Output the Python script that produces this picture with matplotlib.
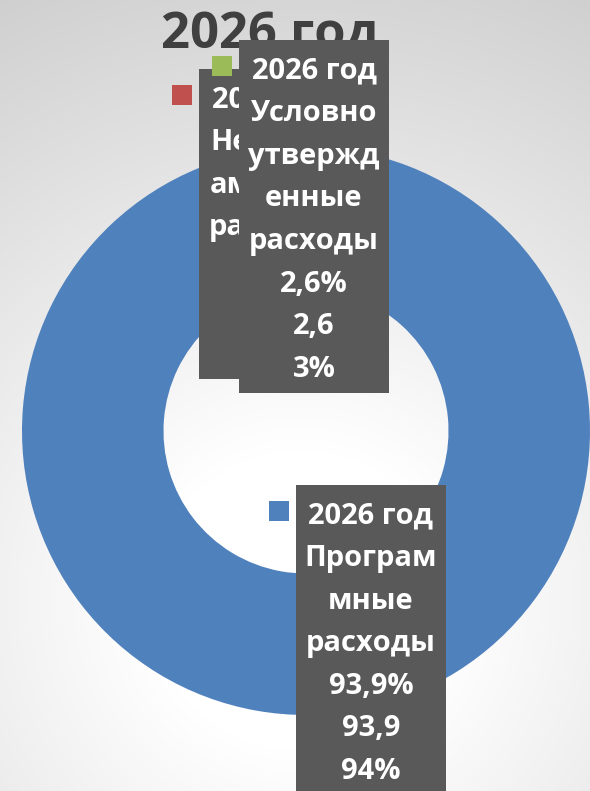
import numpy as np
import matplotlib.pyplot as plt
from matplotlib.patches import Rectangle

W, H = 590, 791

title = '2026 год'
categories = ['Программные расходы', 'Непрограммные расходы', 'Условно утвержденные расходы']
values = [93.9, 3.5, 2.6]
colors = ['#4F81BD', '#C0504D', '#9BBB59']
# how the label text wraps inside each box
label_lines = [
    ['2026 год', 'Програм', 'мные', 'расходы'],
    ['2026 год', 'Непрогр', 'аммные', 'расходы'],
    ['2026 год', 'Условно', 'утвержд', 'енные', 'расходы'],
]

# label box corners (left, top) in pixel coords, y from the top
box_pos = [(296, 485), (199, 69), (239, 40)]
box_w = 150
pitch = 42.6
font = ['Open Sans', 'DejaVu Sans']


def fy(y):
    return H - y


fig = plt.figure(figsize=(W / 100, H / 100), dpi=100)
ax = fig.add_axes([0, 0, 1, 1])

# soft radial background
xx, yy = np.meshgrid(np.arange(W), np.arange(H))
d = np.hypot(xx - 300, yy - 600)
t = np.clip((d - 150) / 550, 0, 1)
g = 1.0 - t * (255 - 205) / 255
bg = np.dstack([g, g, g])
ax.imshow(bg, extent=[0, W, 0, H], zorder=0, aspect='auto')

ax.pie(values, colors=colors, startangle=90, counterclock=False,
       radius=284, center=(306, fy(431)),
       wedgeprops=dict(width=141.5, edgecolor='none', linewidth=0))

ax.text(270, fy(48), title, ha='center', va='baseline', fontsize=36.5,
        fontweight='bold', color='#404040', family=font, zorder=2)


def fmt(v):
    return f'{v:.1f}'.replace('.', ',')


# draw order: program, non-program, then conditional on top
for i, (v, c, lines, (bx, by)) in enumerate(zip(values, colors, label_lines, box_pos)):
    rows = lines + [fmt(v) + '%', fmt(v), f'{int(v + 0.5)}%']
    z = 3 + i
    bh = len(rows) * pitch + 12
    ax.add_patch(Rectangle((bx, fy(by + bh)), box_w, bh, facecolor='#595959',
                           edgecolor='none', zorder=z))
    ax.add_patch(Rectangle((bx - 27, fy(by + 36)), 20, 20, facecolor=c,
                           edgecolor='none', zorder=z))
    for k, s in enumerate(rows):
        ax.text(bx + box_w / 2, fy(by + 38.5 + k * pitch), s, ha='center',
                va='baseline', fontsize=21, fontweight='bold', color='white',
                family=font, zorder=z)

ax.set_xlim(0, W)
ax.set_ylim(0, H)
ax.set_aspect('auto')
ax.axis('off')

fig.savefig('out.png', dpi=100)
